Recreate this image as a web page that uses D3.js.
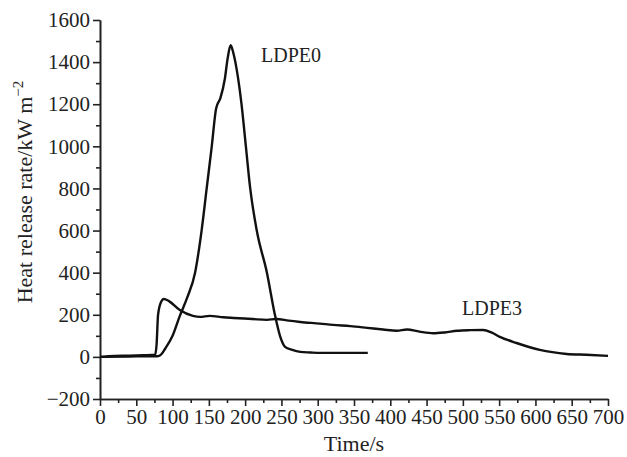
<html lang="en">
<head>
    <meta charset="utf-8">
    <title>Heat release rate</title>
    <script src="https://cdn.jsdelivr.net/npm/d3@7"></script>
    <style>
        body { margin: 0; background: #fff; }
        .axis text { font-family: "Liberation Serif", "DejaVu Serif", serif; font-size: 21px; fill: #222; }
        .axis path, .axis line { stroke: #222; stroke-width: 1.6px; }
        .line { fill: none; stroke: #111; stroke-width: 2.4px; stroke-linejoin: round; }
        .lbl { font-family: "Liberation Serif", serif; font-size: 20px; fill: #222; }
        .title { font-family: "Liberation Serif", serif; font-size: 22px; fill: #222; }
    </style>
</head>
<body>
    <svg width="627" height="457"></svg>
    <script>
        // values
        var ldpe0Time  = [0, 40, 78, 83, 90, 100, 110, 120, 131, 140, 147, 154, 160, 166, 172, 176, 180, 184, 190, 195, 201, 207, 216, 230, 241, 248, 255, 265, 276, 290, 303, 340, 369];
        var ldpe0Value = [0, 2, 3, 8, 40, 100, 195, 280, 400, 600, 800, 1000, 1180, 1230, 1320, 1420, 1480, 1440, 1330, 1200, 1000, 800, 600, 400, 200, 100, 48, 33, 24, 21, 19, 19, 19];

        var ldpe3Time  = [0, 20, 40, 60, 76, 78, 80, 84, 88, 95, 110, 128, 138, 151, 170, 184, 210, 230, 243, 260, 276, 303, 321, 345, 368, 390, 409, 423, 440, 459, 475, 492, 510, 528, 540, 551, 574, 606, 643, 670, 700];
        var ldpe3Value = [0, 5, 6, 8, 10, 60, 200, 260, 275, 265, 223, 195, 190, 195, 188, 185, 180, 176, 180, 172, 166, 158, 152, 146, 138, 130, 124, 130, 120, 112, 116, 124, 127, 128, 115, 95, 66, 33, 14, 10, 5];

        var xTicks = [0, 50, 100, 150, 200, 250, 300, 350, 400, 450, 500, 550, 600, 650, 700];
        var yTicks = [-200, 0, 200, 400, 600, 800, 1000, 1200, 1400, 1600];

        var svg = d3.select("svg");

        var x = d3.scaleLinear().domain([0, 700]).range([100, 608]),
            y = d3.scaleLinear().domain([-200, 1600]).range([399, 20]);

        var xMinor = d3.range(25, 700, 50),
            yMinor = d3.range(-100, 1600, 200);

        // minor ticks
        svg.append("g")
            .attr("class", "axis")
            .attr("transform", "translate(0," + y(-200) + ")")
            .call(d3.axisBottom(x).tickValues(xMinor).tickSize(4).tickSizeOuter(0).tickFormat(""));
        svg.append("g")
            .attr("class", "axis")
            .attr("transform", "translate(" + x(0) + ",0)")
            .call(d3.axisLeft(y).tickValues(yMinor).tickSize(4).tickSizeOuter(0).tickFormat(""));

        // major ticks
        svg.append("g")
            .attr("class", "axis")
            .attr("transform", "translate(0," + y(-200) + ")")
            .call(d3.axisBottom(x).tickValues(xTicks).tickSize(7).tickSizeOuter(0).tickPadding(3));
        svg.append("g")
            .attr("class", "axis")
            .attr("transform", "translate(" + x(0) + ",0)")
            .call(d3.axisLeft(y).tickValues(yTicks).tickSize(7).tickSizeOuter(0).tickPadding(3)
                .tickFormat(function(d) { return d < 0 ? "\u2212" + Math.abs(d) : d; }));

        var line = d3.line()
            .curve(d3.curveMonotoneX)
            .x(function(d) { return x(d[0]); })
            .y(function(d) { return y(d[1]); });

        svg.append("path")
            .attr("class", "line")
            .attr("d", line(d3.zip(ldpe0Time, ldpe0Value)));
        svg.append("path")
            .attr("class", "line")
            .attr("d", line(d3.zip(ldpe3Time, ldpe3Value)));

        svg.append("text").attr("class", "lbl").attr("x", 261).attr("y", 62).text("LDPE0");
        svg.append("text").attr("class", "lbl").attr("x", 462).attr("y", 315).text("LDPE3");

        // axis titles
        svg.append("text").attr("class", "title")
            .attr("x", x(350)).attr("y", 451)
            .attr("text-anchor", "middle")
            .text("Time/s");

        var yt = svg.append("text").attr("class", "title")
            .attr("transform", "translate(32,192) rotate(-90)")
            .attr("text-anchor", "middle");
        yt.append("tspan").text("Heat release rate/kW m");
        yt.append("tspan").attr("dy", -9).attr("font-size", 15).text("\u22122");
    </script>
</body>
</html>
